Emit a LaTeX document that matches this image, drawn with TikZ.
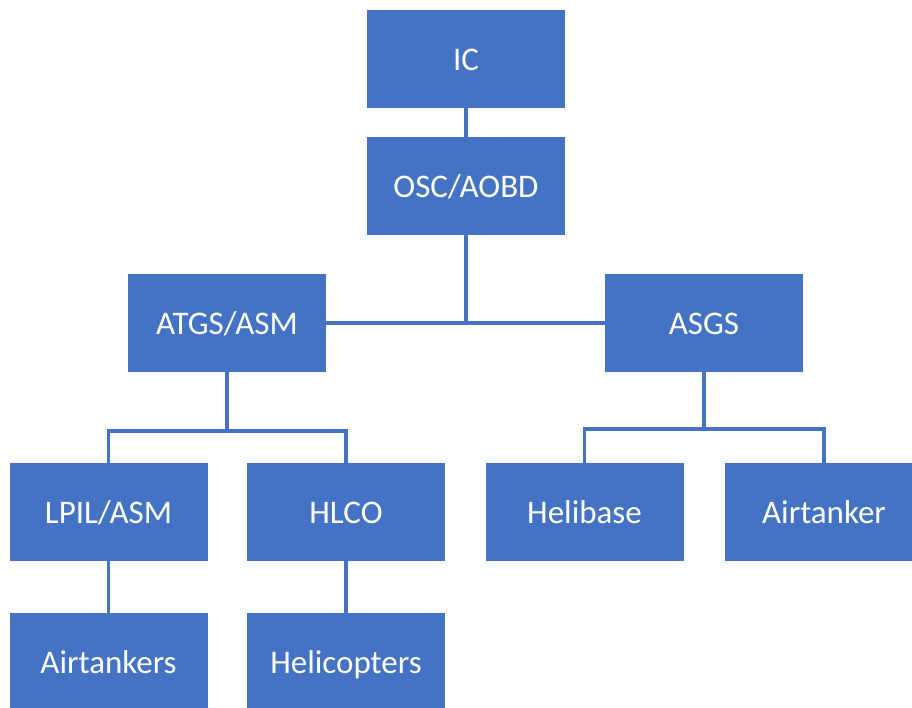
\documentclass[tikz,border=0pt]{standalone}
\usepackage{fontspec}
\setmainfont{Carlito}
\usepackage{tikz}
\definecolor{mblue}{HTML}{4472C4}
\tikzset{rolebox/.style = {fill=mblue, text=white, minimum width=198pt,
                           minimum height=98pt, inner sep=0pt,
                           text height=23pt, text depth=0pt,
                           font=\fontsize{33}{40}\selectfont},
         link/.style = {draw=mblue, line width=3.5pt}}

\begin{document}
\begin{tikzpicture}[x=1pt, y=-1pt]
      \useasboundingbox (0, 0) rectangle (912, 708);
      % command levels
      \node [rolebox] (ic) at (466, 59) {IC};
      \node [rolebox] (osc) at (466, 186) {OSC/AOBD};
      \node [rolebox] (atgs) at (227, 323) {ATGS/ASM};
      \node [rolebox] (asgs) at (704, 323) {ASGS};
      \node [rolebox] (lpil) at (108.5, 512) {LPIL/ASM};
      \node [rolebox] (hlco) at (346, 512) {HLCO};
      \node [rolebox] (helibase) at (584.5, 512) {Helibase};
      \node [rolebox] (airtanker) at (824, 512) {Airtanker};
      \node [rolebox] (airtankers) at (108.5, 662) {Airtankers};
      \node [rolebox] (helicopters) at (346, 662) {Helicopters};
      % connectors
      \draw [link] (ic) -- (osc);
      \draw [link] (osc.south) |- (atgs.east);
      \draw [link] (osc.south) |- (asgs.west);
      \draw [link] (atgs.south) -- ++(0, 59) coordinate (atgsjoin);
      \draw [link] (atgsjoin) -| (lpil.north);
      \draw [link] (atgsjoin) -| (hlco.north);
      \draw [link] (asgs.south) -- ++(0, 57) coordinate (asgsjoin);
      \draw [link] (asgsjoin) -| (helibase.north);
      \draw [link] (asgsjoin) -| (airtanker.north);
      \draw [link] (lpil) -- (airtankers);
      \draw [link] (hlco) -- (helicopters);
    \end{tikzpicture}
\end{document}
